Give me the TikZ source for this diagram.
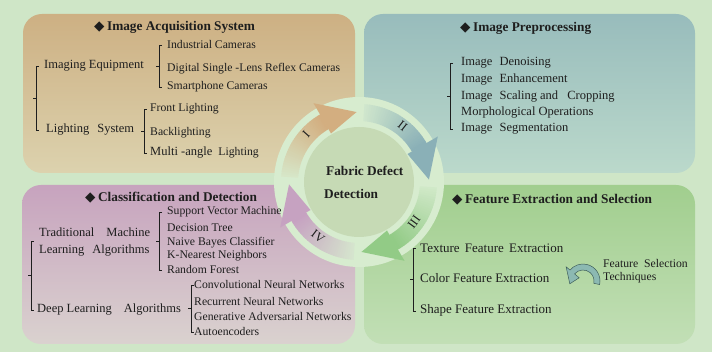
\documentclass[tikz,border=0pt]{standalone}
\usepackage{fontspec}
\setmainfont{Liberation Serif}
\newfontfamily\symf{DejaVu Sans}
\usetikzlibrary{calc}
\definecolor{bg}{HTML}{CFE6C7}
\definecolor{pale}{HTML}{D7ECCF}
\definecolor{disc}{HTML}{C6DAB5}
\definecolor{txt}{HTML}{1E1E1E}
\definecolor{orA}{HTML}{D3AE80}
\definecolor{blA}{HTML}{8AB0B7}
\definecolor{grA}{HTML}{92CB86}
\definecolor{puA}{HTML}{C6A2C1}
\definecolor{orT}{HTML}{CDB083}
\definecolor{orB}{HTML}{DCD2AE}
\definecolor{blT}{HTML}{98BCBC}
\definecolor{blB}{HTML}{BBD9CB}
\definecolor{puT}{HTML}{C7A3BE}
\definecolor{puB}{HTML}{DAD2CF}
\definecolor{grT}{HTML}{A1CE8E}
\definecolor{grB}{HTML}{C2DFB6}
\definecolor{tealA}{HTML}{8CB9B2}
\definecolor{tealD}{HTML}{3E5E5A}
\newcommand\ringarrow[3]{%
  \pgfmathsetmacro\hb{#2+28}%
  \foreach \i in {0,...,29}{%
    \pgfmathsetmacro\aa{#1+(\hb-#1)*\i/30}%
    \pgfmathsetmacro\ab{#1+(\hb-#1)*(\i+1.2)/30}%
    \pgfmathsetmacro\pc{10+90*\i/29}%
    \fill[#3!\pc!pale] (\aa:78pt) arc[start angle=\aa, end angle=\ab, radius=78pt] -- (\ab:61pt) arc[start angle=\ab, end angle=\aa, radius=61pt] -- cycle;
  }%
  \fill[#3] (\hb:91pt) -- (#2:70pt) -- (\hb:56pt) -- cycle;
}
\newcommand\bracket[3]{%
  \draw[brk] ($(#2 -| #1)+(3pt,0)$) -- (#2 -| #1) -- (#3 -| #1) -- ($(#3 -| #1)+(3pt,0)$);
  \draw[brk] ($(#2 -| #1)!0.5!(#3 -| #1)$) -- +(-3pt,0);
}
\tikzset{
  hdr/.style={font=\fontsize{13.3}{15}\selectfont\bfseries, anchor=base west, inner sep=0pt, text=txt},
  itS/.style={font=\fontsize{11.7}{13}\selectfont, anchor=base west, inner sep=0pt, text=txt},
  itL/.style={font=\fontsize{12.5}{14}\selectfont, anchor=base west, inner sep=0pt, text=txt},
  itX/.style={font=\fontsize{13}{15}\selectfont, anchor=base west, inner sep=0pt, text=txt},
  rn/.style={font=\fontsize{12.5}{13}\selectfont, inner sep=0pt, text=txt},
  brk/.style={draw=txt, line width=0.7pt},
}
\newcommand\dia{{\symf\fontsize{13.5}{14}\selectfont ◆}\hspace{2.5pt}}
\begin{document}
\begin{tikzpicture}[x=1pt,y=-1pt]
\useasboundingbox (0,0) rectangle (712,352);
\fill[bg] (0,0) rectangle (712,352);
% panels
\shade[top color=orT, bottom color=orB, rounded corners=19pt] (23,14) rectangle (355,173);
\shade[top color=blT, bottom color=blB, rounded corners=19pt] (364,14) rectangle (695,173);
\shade[top color=puT, bottom color=puB, rounded corners=19pt] (22,185) rectangle (355,344);
\shade[top color=grT, bottom color=grB, rounded corners=19pt] (364,185) rectangle (695,344);
% central ring
\begin{scope}[shift={(359,182)}]
  \fill[pale] (0,0) circle[radius=85pt];
  \ringarrow{176}{92}{orA}
  \ringarrow{86}{2}{blA}
  \ringarrow{-4}{-88}{grA}
  \ringarrow{-94}{-178}{puA}
  \fill[disc] (0,0) circle[radius=55pt];
  \node[rn, rotate=48] (r1) at (138:71pt) {I};
  \node[rn, rotate=-38] (r2) at (52:71pt) {II};
  \node[rn, rotate=54] (r3) at (-36:68pt) {III};
  \node[rn, rotate=-37] (r4) at (-127:68pt) {IV};
\end{scope}
\node[hdr] (c1) at (326,176) {Fabric Defect};
\node[hdr] (c2) at (324,199) {Detection};
% top-left
\node[hdr] (h1) at (94,31) {\dia Image Acquisition System};
\node[itL] (ie) at (44,69) {Imaging Equipment};
\node[itL] (ls) at (46,133) {Lighting\hspace{5pt} System};
\node[itS] (ic) at (167,49) {Industrial Cameras};
\node[itS] (dc) at (167,72) {Digital Single -Lens Reflex Cameras};
\node[itS] (sc) at (167,90) {Smartphone Cameras};
\node[itS] (fl) at (150,112) {Front Lighting};
\node[itS] (bl) at (150,136) {Backlighting};
\node[itS] (ma) at (150,156) {\fontsize{12.5}{14}\selectfont Multi -angle\hspace{3pt} {\fontsize{11.7}{13}\selectfont Lighting}};
\coordinate (xa) at (159,0);
\coordinate (xb) at (36,0);
\coordinate (xc) at (144,0);
\bracket{xa}{ic.west}{sc.west}
\bracket{xb}{ie.west}{ls.west}
\bracket{xc}{fl.west}{ma.west}
% top-right
\node[hdr] (h2) at (460,32) {\dia Image Preprocessing};
\node[itL] (p1) at (461,66) {Image\hspace{4pt} Denoising};
\node[itL] (p2) at (461,83) {Image\hspace{4pt} Enhancement};
\node[itL] (p3) at (461,100) {Image\hspace{4pt} Scaling and\hspace{6pt} Cropping};
\node[itL] (p4) at (461,116) {Morphological Operations};
\node[itL] (p5) at (461,132) {Image\hspace{4pt} Segmentation};
\coordinate (xd) at (450,0);
\bracket{xd}{p1.west}{p5.west}
% bottom-left
\node[hdr] (h3) at (85,202) {\dia Classification and Detection};
\node[itL] (t1) at (39,237) {Traditional\hspace{9pt} Machine};
\node[itL] (t2) at (39,254) {Learning\hspace{5pt} Algorithms};
\node[itS] (m1) at (167,215) {Support Vector Machine};
\node[itS] (m2) at (167,232) {Decision Tree};
\node[itS] (m3) at (167,246) {Naive Bayes Classifier};
\node[itS] (m4) at (167,259) {K-Nearest Neighbors};
\node[itS] (m5) at (167,274) {Random Forest};
\node[itL] (dl) at (37,313) {Deep Learning\hspace{9pt} Algorithms};
\node[itS] (d1) at (194,289) {Convolutional Neural Networks};
\node[itS] (d2) at (194,306) {Recurrent Neural Networks};
\node[itS] (d3) at (194,321) {Generative Adversarial Networks};
\node[itS] (d4) at (194,336) {Autoencoders};
\coordinate (xe) at (159,0);
\coordinate (xf) at (191,0);
\coordinate (xg) at (31,0);
\coordinate (gt) at (31,241);
\bracket{xe}{m1.west}{m5.west}
\bracket{xf}{d1.west}{d4.west}
\bracket{xg}{gt}{dl.west}
% bottom-right
\node[hdr] (h4) at (452,204) {\dia Feature Extraction and Selection};
\node[itX] (f1) at (420,253) {Texture\hspace{2pt} Feature\hspace{2pt} Extraction};
\node[itX] (f2) at (420,283) {Color Feature Extraction};
\node[itX] (f3) at (420,314) {Shape Feature Extraction};
\coordinate (xh) at (413,0);
\bracket{xh}{f1.west}{f3.west}
\node[itS] (fs1) at (603,268) {Feature\hspace{3pt} Selection};
\node[itS] (fs2) at (603,281) {Techniques};
\begin{scope}[shift={(583,281)}]
  \filldraw[fill=tealA, draw=tealD, line width=0.5pt] (-12:17pt) arc[start angle=-12, end angle=140, radius=17pt] -- (140:22pt) -- (192:13.5pt) -- (140:5pt) -- (140:11pt) arc[start angle=140, end angle=-12, radius=11pt] -- cycle;
\end{scope}
\end{tikzpicture}
\end{document}
